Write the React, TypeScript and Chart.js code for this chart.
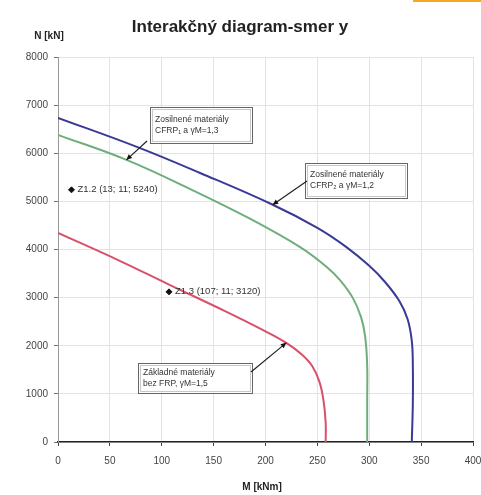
import React, { useEffect, useRef } from "react";
import { Chart, registerables } from "chart.js";

Chart.register(...registerables);

// M [kNm] / N [kN] values
const blueM = [0, 76, 137, 207, 250, 278, 300, 315, 329, 337, 341, 342, 342, 341];
const blueN = [6736, 6133, 5590, 4930, 4450, 4050, 3660, 3330, 2930, 2550, 2100, 1600, 800, 0];
const greenM = [0, 66, 130, 185, 233, 259, 272, 284, 292, 296, 298, 298, 298];
const greenN = [6383, 5863, 5230, 4640, 4054, 3638, 3360, 3000, 2600, 2200, 1600, 800, 0];
const redM = [0, 60, 108, 160, 200, 220, 235, 245, 252, 256, 258, 258];
const redN = [4345, 3760, 3260, 2730, 2300, 2060, 1820, 1580, 1250, 850, 400, 0];

const pointNames = ["Z1.2", "Z1.3"];
const pointM = [13, 107];
const pointN = [5240, 3120];

const xTicks = [0, 50, 100, 150, 200, 250, 300, 350, 400];
const yTicks = [0, 1000, 2000, 3000, 4000, 5000, 6000, 7000, 8000];

const titleText = "Interakčný diagram-smer y";
const yTitle = "N [kN]";
const xTitle = "M [kNm]";

const notes = [
  { lines: ["Zosilnené materiály", "CFRP₁ a γM=1,3"], box: [150, 107, 102, 36], from: [147, 141], toM: 66, toN: 5863 },
  { lines: ["Zosilnené materiály", "CFRP₂ a γM=1,2"], box: [305, 163, 102, 35], from: [307, 181], toM: 207, toN: 4930 },
  { lines: ["Základné materiály", "bez FRP, γM=1,5"], box: [138, 363, 114, 30], from: [251, 372], toM: 220, toN: 2060 },
];

const toXY = (ms: number[], ns: number[]) => ms.map((m, i) => ({ x: m, y: ns[i] }));
const FONT = "Arial, 'Liberation Sans', sans-serif";

const drawPlugin = {
  id: "extras",
  afterDatasetsDraw(chart: any) {
    const ctx = chart.ctx as CanvasRenderingContext2D;
    const xs = chart.scales.x;
    const ys = chart.scales.y;
    ctx.save();
    ctx.fillStyle = "#222";
    ctx.textAlign = "center";
    ctx.textBaseline = "middle";
    ctx.font = `bold 17px ${FONT}`;
    ctx.fillText(titleText, 240, 27);
    ctx.font = `bold 10px ${FONT}`;
    ctx.fillText(yTitle, 49, 36);
    ctx.fillText(xTitle, 262, 487);

    ctx.textAlign = "left";
    ctx.font = `9.5px ${FONT}`;
    ctx.fillStyle = "#333";
    pointNames.forEach((nm, i) => {
      const px = xs.getPixelForValue(pointM[i]);
      const py = ys.getPixelForValue(pointN[i]);
      ctx.fillText(`${nm} (${pointM[i]}; 11; ${pointN[i]})`, px + 6, py);
    });

    notes.forEach((n) => {
      const [bx, by, bw, bh] = n.box;
      ctx.fillStyle = "#fff";
      ctx.fillRect(bx, by, bw, bh);
      ctx.strokeStyle = "#666";
      ctx.lineWidth = 1;
      ctx.strokeRect(bx + 0.5, by + 0.5, bw, bh);
      ctx.strokeStyle = "#c8c8c8";
      ctx.strokeRect(bx + 2.5, by + 2.5, bw - 4, bh - 4);
      ctx.fillStyle = "#333";
      ctx.font = `8.5px ${FONT}`;
      ctx.textAlign = "left";
      n.lines.forEach((l, k) => ctx.fillText(l, bx + 5, by + bh / 2 + (k - 0.5) * 11));
      const tx = xs.getPixelForValue(n.toM);
      const ty = ys.getPixelForValue(n.toN);
      const [fx, fy] = n.from;
      ctx.strokeStyle = "#222";
      ctx.lineWidth = 1.2;
      ctx.beginPath();
      ctx.moveTo(fx, fy);
      ctx.lineTo(tx, ty);
      ctx.stroke();
      const ang = Math.atan2(ty - fy, tx - fx);
      ctx.fillStyle = "#111";
      ctx.beginPath();
      ctx.moveTo(tx, ty);
      ctx.lineTo(tx - 6 * Math.cos(ang - 0.45), ty - 6 * Math.sin(ang - 0.45));
      ctx.lineTo(tx - 6 * Math.cos(ang + 0.45), ty - 6 * Math.sin(ang + 0.45));
      ctx.closePath();
      ctx.fill();
    });
    ctx.restore();
  },
};

export default function App() {
  const ref = useRef<HTMLCanvasElement>(null);
  useEffect(() => {
    if (!ref.current) return;
    const line = { showLine: true, borderWidth: 2, pointRadius: 0, tension: 0.4 };
    const chart = new Chart(ref.current, {
      type: "scatter",
      data: {
        datasets: [
          { ...line, data: toXY(blueM, blueN), borderColor: "#3a3a96" },
          { ...line, data: toXY(greenM, greenN), borderColor: "#6fae7c" },
          { ...line, data: toXY(redM, redN), borderColor: "#d9506a" },
          { data: toXY(pointM, pointN), showLine: false, pointStyle: "rectRot", pointRadius: 3, backgroundColor: "#111", borderColor: "#111" },
        ] as any,
      },
      options: {
        animation: false,
        responsive: false,
        maintainAspectRatio: false,
        layout: { padding: { top: 57, right: 8, left: 0, bottom: 0 } },
        plugins: { legend: { display: false }, tooltip: { enabled: false }, title: { display: false } },
        scales: {
          x: {
            type: "linear",
            min: 0,
            max: 400,
            afterBuildTicks: (s: any) => { s.ticks = xTicks.map((v) => ({ value: v })); },
            afterFit: (s: any) => { s.height = 53; s.paddingRight = 0; s.paddingLeft = 0; },
            ticks: { color: "#444", font: { size: 10, family: FONT }, padding: 9, callback: (v: any) => String(v) },
            grid: { color: "#e3e3e3", tickLength: 4, tickColor: "#444" },
            border: { color: "#222", width: 1.5 },
          },
          y: {
            type: "linear",
            min: 0,
            max: 8000,
            afterBuildTicks: (s: any) => { s.ticks = yTicks.map((v) => ({ value: v })); },
            afterFit: (s: any) => { s.width = 58; s.paddingTop = 0; s.paddingBottom = 0; },
            ticks: { color: "#444", font: { size: 10, family: FONT }, padding: 6, callback: (v: any) => String(v) },
            grid: { color: "#e3e3e3", tickLength: 4, tickColor: "#777" },
            border: { color: "#999", width: 1 },
          },
        },
      },
      plugins: [drawPlugin],
    } as any);
    return () => chart.destroy();
  }, []);
  return (
    <div style={{ position: "absolute", left: 0, top: 0, width: 481, height: 495, background: "#fff" }}>
      <canvas ref={ref} width={481} height={495} style={{ width: 481, height: 495, display: "block" }} />
      <div style={{ position: "absolute", left: 413, top: 0, width: 68, height: 2, background: "#f5a623" }} />
    </div>
  );
}
